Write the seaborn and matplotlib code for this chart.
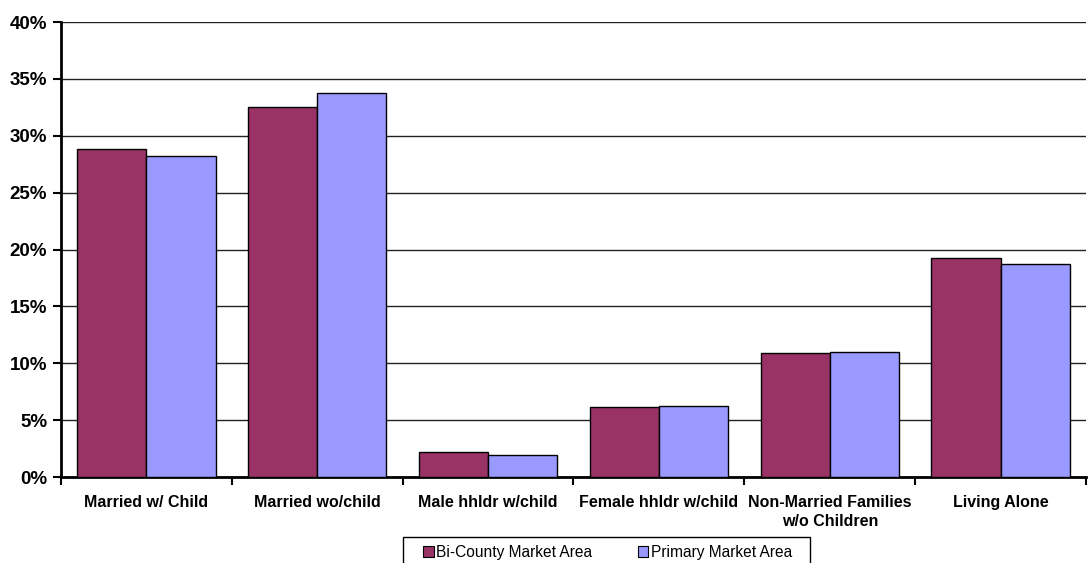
import matplotlib
matplotlib.use("Agg")
import matplotlib.pyplot as plt
from matplotlib.patches import Patch, Rectangle
from matplotlib.ticker import FuncFormatter, MultipleLocator, FixedLocator
import seaborn as sns
import pandas as pd

categories = [
    "Married w/ Child",
    "Married wo/child",
    "Male hhldr w/child",
    "Female hhldr w/child",
    "Non-Married Families\nw/o Children",
    "Living Alone",
]
series_names = ["Bi-County Market Area", "Primary Market Area"]
bi_county = [28.8, 32.5, 2.2, 6.15, 10.9, 19.25]
primary = [28.2, 33.8, 1.95, 6.25, 11.0, 18.7]
colors = ["#993366", "#9999FF"]

df = pd.DataFrame({
    "category": categories * 2,
    "share": bi_county + primary,
    "area": [series_names[0]] * len(categories) + [series_names[1]] * len(categories),
})

sns.set_style("white")
plt.rcParams["font.family"] = ["Liberation Sans", "DejaVu Sans"]
plt.rcParams["text.color"] = "black"

W, H = 1088, 563
fig = plt.figure(figsize=(W / 100, H / 100), dpi=100)
ax = fig.add_axes([61 / W, 1 - 477 / H, 1025 / W, 455 / H])

sns.barplot(
    data=df, x="category", y="share", hue="area", order=categories,
    hue_order=series_names, palette=colors, saturation=1, width=0.81,
    edgecolor="black", linewidth=1.0, ax=ax, legend=False, zorder=3,
)

ax.set_xlim(-0.5, len(categories) - 0.5)
ax.set_ylim(0, 40)
ax.yaxis.set_major_locator(MultipleLocator(5))
ax.yaxis.set_major_formatter(FuncFormatter(lambda v, _: f"{v:.0f}%"))
ax.grid(axis="y", color="#222222", linewidth=1.0, zorder=0)
ax.set_axisbelow(True)

for side in ("top", "right"):
    ax.spines[side].set_visible(False)
for side in ("left", "bottom"):
    ax.spines[side].set_color("black")
    ax.spines[side].set_linewidth(2)

ax.tick_params(axis="y", which="major", direction="out", length=6, width=1.5,
               color="black", labelsize=13.5, labelcolor="black", pad=4, left=True)
ax.tick_params(axis="x", which="major", length=0, labelsize=11.5,
               labelcolor="black", pad=13)
ax.xaxis.set_minor_locator(FixedLocator([i - 0.5 for i in range(len(categories) + 1)]))
ax.tick_params(axis="x", which="minor", direction="out", length=6, width=1.5,
               color="black", bottom=True)
for lbl in ax.get_yticklabels() + ax.get_xticklabels():
    lbl.set_fontweight("bold")
    lbl.set_linespacing(1.3)
ax.set_xlabel("")
ax.set_ylabel("")

# Legend box, running past the lower edge of the figure
fig.patches.append(Rectangle((403 / W, -0.02), 407 / W, 1 - 537 / H + 0.02,
                             transform=fig.transFigure, facecolor="white",
                             edgecolor="black", linewidth=1.0, zorder=5))

handles = [Patch(facecolor=c, edgecolor="black", linewidth=0.8) for c in colors]
leg = fig.legend(
    handles, series_names, loc="center left", ncol=2,
    bbox_to_anchor=(423 / W, 1 - 552 / H, (792 - 423) / W, 0), mode="expand",
    frameon=False, fontsize=11.2,
    handlelength=0.7, handleheight=0.7, handletextpad=0.15,
    borderpad=0, borderaxespad=0,
)
leg.set_zorder(6)

fig.savefig("out.png", dpi=100)
